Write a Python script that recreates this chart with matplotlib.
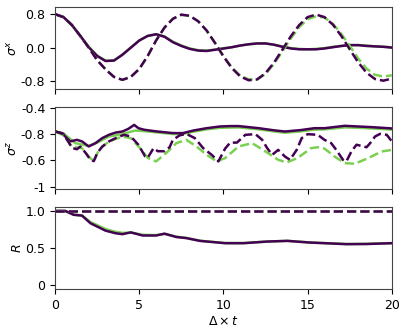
import numpy as np
import matplotlib
matplotlib.use('Agg')
import matplotlib.pyplot as plt

plt.rcParams['axes.unicode_minus'] = False
plt.rcParams['font.size'] = 9

purple = '#440154'
green = '#7ad151'

# time grid for sigma_x
t_x = np.arange(0, 20.01, 0.5)

# sigma_x, solid (purple / green) and dashed (purple / green)
sx_solid_p = [0.80, 0.73, 0.54, 0.28, 0.01, -0.20, -0.32, -0.31, -0.17, 0.00,
              0.17, 0.28, 0.32, 0.26, 0.13, 0.04, -0.03, -0.07, -0.08, -0.05,
              -0.02, 0.01, 0.05, 0.08, 0.10, 0.10, 0.07, 0.02, -0.02, -0.04,
              -0.04, -0.04, -0.02, 0.01, 0.04, 0.06, 0.06, 0.04, 0.03, 0.02, 0.00]
sx_solid_g = [0.80, 0.73, 0.54, 0.28, 0.02, -0.19, -0.31, -0.30, -0.17, 0.00,
              0.17, 0.28, 0.32, 0.27, 0.14, 0.05, -0.02, -0.06, -0.07, -0.05,
              -0.02, 0.01, 0.05, 0.08, 0.10, 0.10, 0.07, 0.03, -0.01, -0.03,
              -0.04, -0.03, -0.01, 0.02, 0.04, 0.06, 0.06, 0.05, 0.03, 0.02, 0.01]
sx_dash_p = [0.80, 0.73, 0.54, 0.28, 0.00, -0.30, -0.52, -0.70, -0.77, -0.70,
             -0.51, -0.20, 0.17, 0.48, 0.69, 0.79, 0.76, 0.63, 0.41, 0.11,
             -0.21, -0.49, -0.69, -0.78, -0.76, -0.61, -0.36, -0.05, 0.27, 0.54,
             0.73, 0.79, 0.73, 0.55, 0.28, -0.04, -0.35, -0.60, -0.75, -0.79, -0.74]
sx_dash_g = [0.80, 0.73, 0.54, 0.28, 0.00, -0.30, -0.52, -0.70, -0.77, -0.70,
             -0.51, -0.20, 0.17, 0.48, 0.69, 0.78, 0.76, 0.63, 0.41, 0.12,
             -0.20, -0.47, -0.67, -0.76, -0.76, -0.63, -0.39, -0.09, 0.22, 0.49,
             0.68, 0.75, 0.72, 0.57, 0.33, 0.04, -0.26, -0.50, -0.65, -0.69, -0.66]

# sigma_z (values on the drawn axis scale)
t_zs_p = [0, 0.4, 0.9, 1.3, 1.6, 2.0, 2.4, 2.8, 3.2, 3.6, 4.0, 4.35, 4.7, 4.95, 5.3,
          6.0, 7.0, 7.6, 8.2, 9.0, 9.8, 10.4, 10.9, 12.1, 13.0, 13.65, 14.6, 15.4,
          16.0, 17.2, 18.0, 18.8, 19.8, 20.0]
sz_solid_p = [-0.581, -0.593, -0.656, -0.644, -0.656, -0.694, -0.669, -0.631, -0.606,
              -0.589, -0.581, -0.561, -0.531, -0.556, -0.568, -0.58, -0.593, -0.593,
              -0.574, -0.556, -0.543, -0.54, -0.54, -0.556, -0.572, -0.581, -0.57,
              -0.556, -0.556, -0.538, -0.543, -0.548, -0.556, -0.558]
t_zs_g = [0, 0.5, 1.2, 2.0, 2.5, 3.2, 4.0, 4.75, 5.3, 6.0, 7.0, 7.6, 8.2, 9.0, 9.8,
          10.9, 12.1, 13.0, 13.65, 14.6, 15.4, 16.0, 17.2, 18.0, 18.8, 19.8, 20.0]
sz_solid_g = [-0.581, -0.595, -0.669, -0.69, -0.665, -0.619, -0.60, -0.574, -0.578,
              -0.587, -0.60, -0.60, -0.583, -0.565, -0.553, -0.55, -0.565, -0.58,
              -0.59, -0.58, -0.567, -0.565, -0.55, -0.553, -0.558, -0.565, -0.567]
t_zd_p = [0, 0.5, 0.8, 1.0, 1.3, 1.5, 1.8, 2.1, 2.3, 2.5, 2.8, 3.2, 3.6, 4.1, 4.5,
          4.95, 5.35, 5.5, 5.85, 6.1, 6.5, 6.8, 7.0, 7.4, 7.8, 8.3, 8.8, 9.3, 9.7,
          10.1, 10.4, 10.8, 11.3, 11.9, 12.3, 12.6, 12.9, 13.25, 13.65, 13.95, 14.35,
          14.65, 15.0, 15.6, 16.0, 16.4, 16.7, 17.1, 17.3, 17.6, 17.9, 18.2, 18.5,
          18.8, 19.0, 19.3, 19.7, 20.0]
sz_dash_p = [-0.58, -0.60, -0.66, -0.705, -0.715, -0.695, -0.74, -0.795, -0.805, -0.745,
             -0.695, -0.656, -0.631, -0.606, -0.619, -0.681, -0.77, -0.78, -0.707, -0.73,
             -0.73, -0.70, -0.644, -0.61, -0.599, -0.631, -0.707, -0.757, -0.807,
             -0.71, -0.665, -0.665, -0.606, -0.601, -0.644, -0.707, -0.757, -0.72,
             -0.77, -0.795, -0.72, -0.631, -0.601, -0.606, -0.644, -0.669, -0.72,
             -0.795, -0.807, -0.732, -0.681, -0.69, -0.70, -0.656, -0.619, -0.599,
             -0.606, -0.656]
t_zd_g = [0, 0.5, 1.0, 1.6, 2.0, 2.3, 2.6, 3.2, 4.0, 4.5, 5.0, 5.5, 6.0, 6.6, 7.2,
          7.8, 8.4, 9.0, 9.6, 10.1, 10.9, 11.7, 12.5, 13.25, 13.75, 14.4, 15.2, 15.6,
          16.0, 16.6, 17.2, 17.8, 18.6, 19.4, 20.0]
sz_dash_g = [-0.58, -0.61, -0.694, -0.707, -0.77, -0.807, -0.72, -0.656, -0.619, -0.631,
             -0.70, -0.78, -0.807, -0.744, -0.669, -0.644, -0.694, -0.757, -0.807,
             -0.782, -0.694, -0.669, -0.732, -0.795, -0.815, -0.782, -0.707, -0.70,
             -0.71, -0.77, -0.82, -0.825, -0.782, -0.732, -0.72]
sz_ticks = [-1, -0.8, -0.6, -0.4]
sz_ticklabels = ['-1', '-0.6', '-0.8', '-0.4']

# R
t_r = [0, 0.6, 0.8, 1.1, 1.6, 2.1, 2.5, 3.0, 3.6, 4.0, 4.5, 5.2, 6.0, 6.5, 7.2, 7.8,
       8.6, 10.1, 11.2, 12.6, 13.8, 15.1, 17.3, 18.5, 20.0]
r_solid_p = [1.0, 1.0, 0.98, 0.948, 0.937, 0.835, 0.79, 0.735, 0.70, 0.688, 0.712,
             0.67, 0.67, 0.695, 0.65, 0.635, 0.598, 0.567, 0.567, 0.589, 0.598,
             0.576, 0.554, 0.556, 0.567]
r_solid_g = [1.0, 1.0, 0.98, 0.95, 0.94, 0.85, 0.81, 0.755, 0.72, 0.705, 0.71,
             0.68, 0.675, 0.69, 0.655, 0.638, 0.60, 0.569, 0.569, 0.589, 0.598,
             0.577, 0.556, 0.558, 0.568]
r_dash = [1.0] * len(t_r)

fig, axs = plt.subplots(3, 1, sharex=True, figsize=(3.99, 3.32), dpi=100)
fig.subplots_adjust(left=0.138, right=0.982, top=0.98, bottom=0.129, hspace=0.223)

lw = 1.8
ax = axs[0]
ax.plot(t_x, sx_solid_g, color=green, lw=lw)
ax.plot(t_x, sx_solid_p, color=purple, lw=lw)
ax.plot(t_x, sx_dash_g, color=green, lw=lw, ls='--')
ax.plot(t_x, sx_dash_p, color=purple, lw=lw, ls='--')
ax.set_ylim(-0.98, 0.98)
ax.set_yticks([-0.8, 0.0, 0.8])
ax.set_yticklabels(['-0.8', '0.0', '0.8'])
ax.set_ylabel(r'$\sigma^x$', labelpad=1)

ax = axs[1]
ax.plot(t_zs_g, sz_solid_g, color=green, lw=lw)
ax.plot(t_zs_p, sz_solid_p, color=purple, lw=lw)
ax.plot(t_zd_g, sz_dash_g, color=green, lw=lw, ls='--')
ax.plot(t_zd_p, sz_dash_p, color=purple, lw=lw, ls='--')
ax.set_ylim(-1.015, -0.395)
ax.set_yticks(sz_ticks)
ax.set_yticklabels(sz_ticklabels)
ax.set_ylabel(r'$\sigma^z$', labelpad=1)

ax = axs[2]
ax.plot(t_r, r_solid_g, color=green, lw=lw)
ax.plot(t_r, r_solid_p, color=purple, lw=lw)
ax.plot(t_r, r_dash, color=green, lw=lw, ls='--')
ax.plot(t_r, r_dash, color=purple, lw=lw, ls='--')
ax.set_ylim(-0.05, 1.05)
ax.set_yticks([0, 0.5, 1.0])
ax.set_yticklabels(['0', '0.5', '1.0'])
ax.set_ylabel(r'$R$', labelpad=1)
ax.set_xlim(0, 20)
ax.set_xticks([0, 5, 10, 15, 20])
ax.set_xlabel(r'$\Delta \times t$', labelpad=2)

for a in axs:
    for s in a.spines.values():
        s.set_color('#444444')

fig.savefig('out.png', dpi=100)
